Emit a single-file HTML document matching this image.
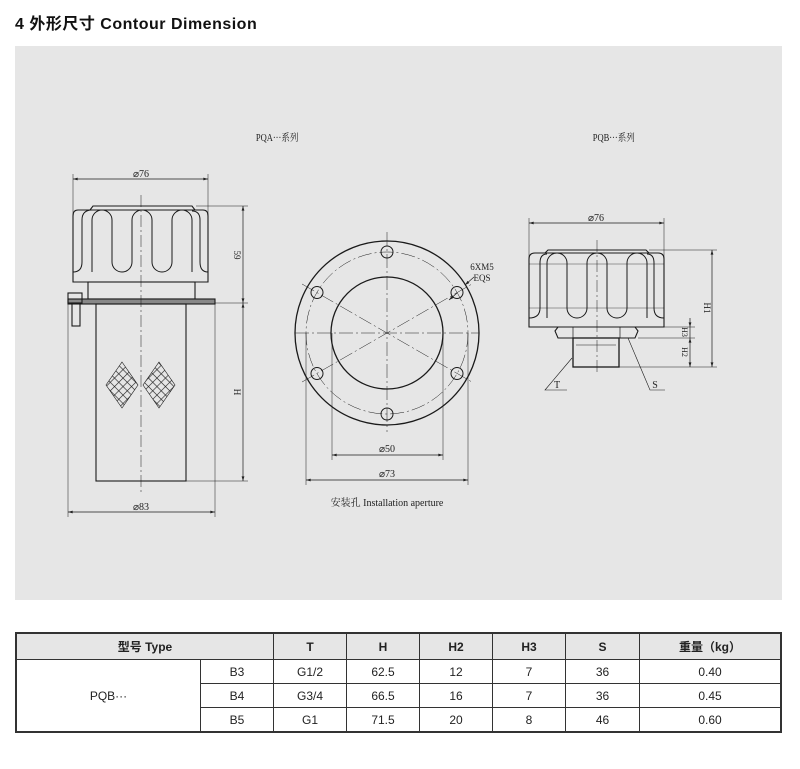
<!DOCTYPE html>
<html><head><meta charset="utf-8"><style>
body{margin:0;width:800px;height:769px;background:#fff;position:relative;overflow:hidden;font-family:"Liberation Sans","Noto Sans CJK SC",sans-serif}
.title{position:absolute;left:15px;top:10px;font-size:16px;font-weight:bold;color:#111;letter-spacing:0.5px}
svg{position:absolute;left:0;top:0}
table{position:absolute;left:15px;top:632px;width:767px;border-collapse:collapse;font-size:12px;color:#222}
td{border:1px solid #333;text-align:center;height:23px;padding:0}
tr.h td{background:#e6e6e6;font-weight:bold;height:25px}
table{border:2px solid #333}
</style></head><body>
<div class="title">4 外形尺寸 Contour Dimension</div>
<svg width="800" height="769" viewBox="0 0 800 769" font-family="'Liberation Serif','Noto Serif CJK SC',serif">
<defs>
<marker id="a" viewBox="0 0 10 6" refX="10" refY="3" markerWidth="8" markerHeight="4" orient="auto-start-reverse"><path d="M0,0L10,3L0,6z" fill="#222"/></marker>
<clipPath id="d1"><path d="M122,362L138,385L122,408L106,385z"/></clipPath>
<clipPath id="d2"><path d="M159,362L175,385L159,408L143,385z"/></clipPath>
<pattern id="mesh" width="6" height="6" patternUnits="userSpaceOnUse" patternTransform="rotate(45)"><path d="M0,0H6M0,0V6" stroke="#222" stroke-width="1.2"/></pattern>
</defs>
<rect x="15" y="46" width="767" height="554" fill="#e6e6e6"/>
<g fill="#222" font-size="10" text-anchor="middle">
<text x="277" y="141" transform="scale(0.85,1) translate(49,0)">PQA···系列</text>
<text x="614" y="141" transform="scale(0.85,1) translate(108,0)">PQB···系列</text>
</g>
<g stroke="#1a1a1a" fill="none" stroke-width="1.1">
<line x1="73" y1="179" x2="208" y2="179" stroke-width="0.7" marker-start="url(#a)" marker-end="url(#a)"/>
<line x1="73" y1="174" x2="73" y2="270" stroke-width="0.5"/>
<line x1="208" y1="174" x2="208" y2="270" stroke-width="0.5"/>
<path d="M90,210L93,206H192L195,210"/>
<path d="M78,210H203Q208,210 208,216V282H73V216Q73,210 78,210z"/>
<path d="M73,272Q82,272 82,262V220Q82,210 92,210M92,272V220A10,10 0 0 1 112,220V262A10,10 0 0 0 132,262V220A10,10 0 0 1 152,220V262A10,10 0 0 0 172,262V220A10,10 0 0 1 192,220V272M208,272Q200,272 200,262V220Q200,211 192,211" stroke-width="1"/>
<rect x="88" y="282" width="107" height="17"/>
<rect x="68" y="299" width="147" height="5" fill="#888"/>
<rect x="96" y="304" width="90" height="177"/>
<rect x="68" y="293" width="14" height="10"/>
<rect x="72" y="303" width="8" height="23"/>
<line x1="141" y1="195" x2="141" y2="495" stroke-width="0.5" stroke-dasharray="12,3,2,3"/>
<g clip-path="url(#d1)"><rect x="100" y="355" width="45" height="60" fill="url(#mesh)" stroke="none"/></g>
<path d="M122,362L138,385L122,408L106,385z" stroke-width="0.6"/>
<g clip-path="url(#d2)"><rect x="138" y="355" width="45" height="60" fill="url(#mesh)" stroke="none"/></g>
<path d="M159,362L175,385L159,408L143,385z" stroke-width="0.6"/>
<line x1="196" y1="206" x2="248" y2="206" stroke-width="0.5"/>
<line x1="215" y1="303" x2="248" y2="303" stroke-width="0.5"/>
<line x1="186" y1="481" x2="248" y2="481" stroke-width="0.5"/>
<line x1="243" y1="206" x2="243" y2="303" stroke-width="0.7" marker-start="url(#a)" marker-end="url(#a)"/>
<line x1="243" y1="303" x2="243" y2="481" stroke-width="0.7" marker-start="url(#a)" marker-end="url(#a)"/>
<line x1="68" y1="304" x2="68" y2="517" stroke-width="0.5"/>
<line x1="215" y1="304" x2="215" y2="517" stroke-width="0.5"/>
<line x1="68" y1="512" x2="215" y2="512" stroke-width="0.7" marker-start="url(#a)" marker-end="url(#a)"/>
<circle cx="387" cy="333" r="92" stroke-width="1.3"/>
<circle cx="387" cy="333" r="56" stroke-width="1.3"/>
<circle cx="387" cy="333" r="81" stroke-width="0.5" stroke-dasharray="14,3,2,3"/>
<g stroke-width="1"><circle cx="387" cy="252" r="6"/><circle cx="387" cy="414" r="6"/><circle cx="457" cy="292.5" r="6"/><circle cx="317" cy="292.5" r="6"/><circle cx="457" cy="373.5" r="6"/><circle cx="317" cy="373.5" r="6"/></g>
<g stroke-width="0.5" stroke-dasharray="14,3,2,3"><line x1="295" y1="333" x2="479" y2="333"/><line x1="387" y1="232" x2="387" y2="432"/><line x1="302" y1="284" x2="472" y2="382"/><line x1="302" y1="382" x2="472" y2="284"/></g>
<line x1="332" y1="333" x2="332" y2="460" stroke-width="0.5"/>
<line x1="443" y1="333" x2="443" y2="460" stroke-width="0.5"/>
<line x1="306" y1="333" x2="306" y2="485" stroke-width="0.5"/>
<line x1="468" y1="333" x2="468" y2="485" stroke-width="0.5"/>
<line x1="332" y1="455" x2="443" y2="455" stroke-width="0.7" marker-start="url(#a)" marker-end="url(#a)"/>
<line x1="306" y1="480" x2="468" y2="480" stroke-width="0.7" marker-start="url(#a)" marker-end="url(#a)"/>
<line x1="474" y1="277" x2="465" y2="285" stroke-width="0.7" marker-end="url(#a)"/>
<line x1="449" y1="300" x2="457" y2="293" stroke-width="0.7" marker-start="url(#a)"/>
<line x1="529" y1="223" x2="664" y2="223" stroke-width="0.7" marker-start="url(#a)" marker-end="url(#a)"/>
<line x1="529" y1="218" x2="529" y2="300" stroke-width="0.5"/>
<line x1="664" y1="218" x2="664" y2="300" stroke-width="0.5"/>
<path d="M545,253L548,250H646L649,253"/>
<path d="M535,253H658Q664,253 664,259V327H529V259Q529,253 535,253z"/>
<path d="M529,318Q540,318 540,308V263Q540,254 547,254M547,318V263A10,10 0 0 1 567,263V308A10,10 0 0 0 587,308V263A10,10 0 0 1 607,263V308A10,10 0 0 0 627,308V263A10,10 0 0 1 647,263V318M664,318Q654,318 654,308V263Q654,254 647,254" stroke-width="1"/>
<line x1="529" y1="264" x2="664" y2="264" stroke-width="0.4"/>
<line x1="529" y1="308" x2="664" y2="308" stroke-width="0.4"/>
<path d="M558,327H635L638,331L635,338H558L555,331z"/>
<line x1="573" y1="327" x2="573" y2="338" stroke-width="0.7"/><line x1="620" y1="327" x2="620" y2="338" stroke-width="0.7"/>
<rect x="573" y="338" width="46" height="29" stroke-width="1.3"/>
<line x1="576" y1="345" x2="616" y2="345" stroke-width="0.5"/>
<line x1="597" y1="240" x2="597" y2="375" stroke-width="0.5" stroke-dasharray="12,3,2,3"/>
<line x1="649" y1="250" x2="717" y2="250" stroke-width="0.5"/>
<line x1="638" y1="327" x2="695" y2="327" stroke-width="0.5"/>
<line x1="638" y1="338" x2="695" y2="338" stroke-width="0.5"/>
<line x1="619" y1="367" x2="717" y2="367" stroke-width="0.5"/>
<line x1="712" y1="250" x2="712" y2="367" stroke-width="0.7" marker-start="url(#a)" marker-end="url(#a)"/>
<line x1="690" y1="318" x2="690" y2="327" stroke-width="0.7" marker-end="url(#a)"/>
<line x1="690" y1="327" x2="690" y2="338" stroke-width="0.7"/>
<line x1="690" y1="338" x2="690" y2="367" stroke-width="0.7" marker-start="url(#a)" marker-end="url(#a)"/>
<path d="M572,358L545,390H567" stroke-width="0.6"/>
<path d="M628,338L650,390H665" stroke-width="0.6"/>
</g>
<g fill="#222" font-size="10" text-anchor="middle">
<text x="141" y="177">⌀76</text>
<text x="141" y="510">⌀83</text>
<text x="596" y="221">⌀76</text>
<text x="387" y="452">⌀50</text>
<text x="387" y="477">⌀73</text>
<text x="482" y="270" font-size="9">6XM5</text>
<text x="482" y="281" font-size="9">EQS</text>
<text x="557" y="388">T</text>
<text x="655" y="388">S</text>
<text x="387" y="506" font-size="10">安装孔 Installation aperture</text>
<text transform="translate(234,255) rotate(90)" font-size="9">59</text>
<text transform="translate(234,392) rotate(90)" font-size="9">H</text>
<text transform="translate(704,308) rotate(90)" font-size="9">H1</text>
<text transform="translate(682,332) rotate(90)" font-size="8">H3</text>
<text transform="translate(682,352) rotate(90)" font-size="8">H2</text>
</g>
</svg>
<table>
<tr class="h"><td colspan="2" style="width:255px">型号 Type</td><td style="width:72px">T</td><td style="width:72px">H</td><td style="width:72px">H2</td><td style="width:72px">H3</td><td style="width:73px">S</td><td>重量（kg）</td></tr>
<tr><td rowspan="3" style="width:183px">PQB···</td><td style="width:72px">B3</td><td>G1/2</td><td>62.5</td><td>12</td><td>7</td><td>36</td><td>0.40</td></tr>
<tr><td>B4</td><td>G3/4</td><td>66.5</td><td>16</td><td>7</td><td>36</td><td>0.45</td></tr>
<tr><td>B5</td><td>G1</td><td>71.5</td><td>20</td><td>8</td><td>46</td><td>0.60</td></tr>
</table>
</body></html>
